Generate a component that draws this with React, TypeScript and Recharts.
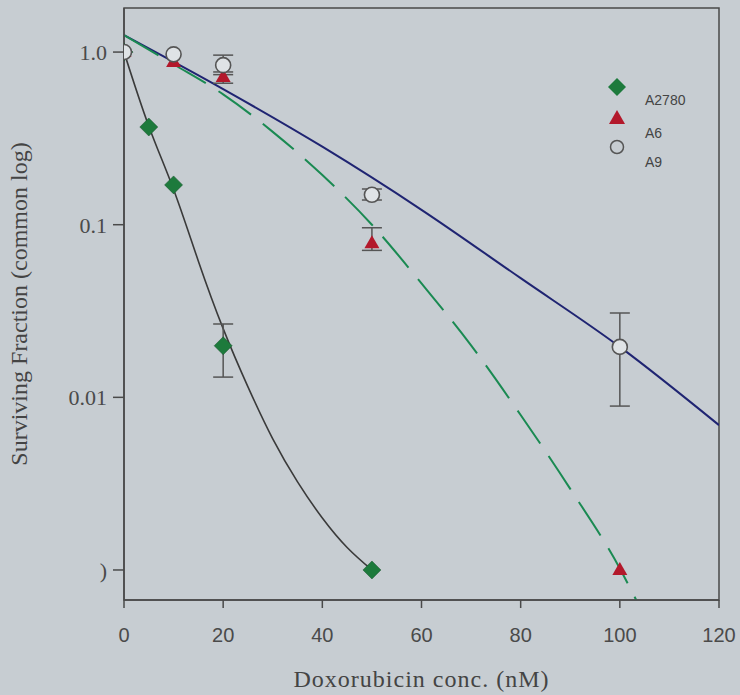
import React from "react";
import {
  ComposedChart,
  Line,
  Scatter,
  ErrorBar,
  XAxis,
  YAxis,
  ReferenceArea,
  Label,
} from "recharts";

// measured points (dose in nM, surviving fraction)
const a2780Points = [
  { x: 0, y: 1.0 },
  { x: 5, y: 0.368 },
  { x: 10, y: 0.17 },
  { x: 20, y: 0.0199, err: [0.0068, 0.0067] },
  { x: 50, y: 0.001 },
];
const a6Points = [
  { x: 0, y: 1.0 },
  { x: 10, y: 0.875 },
  { x: 20, y: 0.717, err: [0.057, 0.05] },
  { x: 50, y: 0.078, err: [0.007, 0.018] },
  { x: 100, y: 0.001 },
];
const a9Points = [
  { x: 0, y: 1.0 },
  { x: 10, y: 0.97 },
  { x: 20, y: 0.84, err: [0.1, 0.12] },
  { x: 50, y: 0.149, err: [0.01, 0.012] },
  { x: 100, y: 0.0196, err: [0.0107, 0.0112] },
];

// fitted curves
const a2780Fit = [
  { x: 0, y: 1.0 },
  { x: 5, y: 0.372 },
  { x: 10, y: 0.16 },
  { x: 15, y: 0.0615 },
  { x: 20, y: 0.025 },
  { x: 25, y: 0.0115 },
  { x: 30, y: 0.00575 },
  { x: 35, y: 0.00324 },
  { x: 40, y: 0.002 },
  { x: 45, y: 0.00135 },
  { x: 50, y: 0.001 },
];
const a6Fit = [
  { x: 0, y: 1.253 },
  { x: 10, y: 0.85 },
  { x: 20, y: 0.569 },
  { x: 30, y: 0.345 },
  { x: 40, y: 0.194 },
  { x: 50, y: 0.1 },
  { x: 60, y: 0.0457 },
  { x: 70, y: 0.02 },
  { x: 80, y: 0.0079 },
  { x: 90, y: 0.00295 },
  { x: 100, y: 0.00102 },
  { x: 103.3, y: 0.00067 },
];
const a9Fit = [
  { x: 0, y: 1.253 },
  { x: 20, y: 0.61 },
  { x: 40, y: 0.283 },
  { x: 60, y: 0.122 },
  { x: 80, y: 0.049 },
  { x: 100, y: 0.0196 },
  { x: 120, y: 0.0069 },
];

const xTicks = [0, 20, 40, 60, 80, 100, 120];
const yTicks = [1, 0.1, 0.01, 0.001];
const yTickLabels = ["1.0", "0.1", "0.01", ")"];
const yDomain = [0.00067, 1.8];

const BG = "#c7cdd2";
const AXIS = "#4a4a4a";
const GREEN = "#1d7a3c";
const RED = "#b3182b";
const NAVY = "#1f2472";
const DASH_GREEN = "#1a8a52";
const SERIF = "'Liberation Serif', 'Times New Roman', serif";
const SANS = "'Liberation Sans', Arial, sans-serif";

const Diamond = (props: any) => {
  const { cx, cy } = props;
  const s = 9;
  return (
    <polygon
      points={`${cx},${cy - s} ${cx + s},${cy} ${cx},${cy + s} ${cx - s},${cy}`}
      fill={GREEN}
      stroke="#17502a"
      strokeWidth={0.5}
    />
  );
};

const Triangle = (props: any) => {
  const { cx, cy } = props;
  return (
    <polygon
      points={`${cx},${cy - 8} ${cx + 7.5},${cy + 5} ${cx - 7.5},${cy + 5}`}
      fill={RED}
    />
  );
};

const OpenCircle = (props: any) => {
  const { cx, cy } = props;
  return <circle cx={cx} cy={cy} r={7.5} fill="#dfe3e6" stroke="#555" strokeWidth={1.6} />;
};

function ChartLegend() {
  const text = { fontFamily: SANS, fontSize: 14, fill: "#444" };
  return (
    <svg width={100} height={110} style={{ position: "absolute", left: 605, top: 74 }}>
      <polygon points="12,4 21,13 12,22 3,13" fill={GREEN} />
      <text x={40} y={31} {...text}>A2780</text>
      <polygon points="12,36 20,50 4,50" fill={RED} />
      <text x={40} y={64} {...text}>A6</text>
      <circle cx={12} cy={73} r={6.5} fill="none" stroke="#555" strokeWidth={1.5} />
      <text x={40} y={93} {...text}>A9</text>
    </svg>
  );
}

export default function App() {
  return (
    <div
      style={{
        position: "fixed",
        left: 0,
        top: 0,
        width: 740,
        height: 695,
        background: BG,
      }}
    >
      <ComposedChart
        width={740}
        height={695}
        margin={{ top: 8, right: 21, bottom: 0, left: 0 }}
      >
        <XAxis
          type="number"
          dataKey="x"
          domain={[0, 120]}
          ticks={xTicks}
          allowDataOverflow
          height={95}
          tickSize={8}
          tickMargin={20}
          axisLine={{ stroke: AXIS, strokeWidth: 1.5 }}
          tickLine={{ stroke: AXIS, strokeWidth: 1.5 }}
          tick={{ fill: "#4a4a4a", fontSize: 20, fontFamily: SANS }}
        >
          <Label
            value="Doxorubicin conc. (nM)"
            position="insideBottom"
            offset={8}
            style={{ fill: "#444", fontSize: 24, letterSpacing: 1, fontFamily: SERIF }}
          />
        </XAxis>
        <YAxis
          type="number"
          dataKey="y"
          scale="log"
          domain={yDomain}
          allowDataOverflow
          ticks={yTicks}
          width={124}
          tickSize={11}
          tickMargin={6}
          tickFormatter={(v: number) => yTickLabels[yTicks.indexOf(v)] ?? ""}
          axisLine={{ stroke: AXIS, strokeWidth: 1.5 }}
          tickLine={{ stroke: AXIS, strokeWidth: 1.5 }}
          tick={{ fill: "#4a4a4a", fontSize: 22, fontFamily: SERIF }}
        >
          <Label
            value="Surviving Fraction (common log)"
            angle={-90}
            position="insideLeft"
            offset={18}
            style={{ textAnchor: "middle", fill: "#444", fontSize: 24, fontFamily: SERIF }}
          />
        </YAxis>
        <ReferenceArea
          x1={0}
          x2={120}
          y1={yDomain[0]}
          y2={yDomain[1]}
          fill="none"
          fillOpacity={0}
          stroke={AXIS}
          strokeWidth={1.5}
        />
        <Line
          data={a9Fit}
          dataKey="y"
          type="monotone"
          stroke={NAVY}
          strokeWidth={2}
          dot={false}
          isAnimationActive={false}
        />
        <Line
          data={a6Fit}
          dataKey="y"
          type="monotone"
          stroke={DASH_GREEN}
          strokeWidth={2}
          strokeDasharray="40 15"
          dot={false}
          isAnimationActive={false}
        />
        <Line
          data={a2780Fit}
          dataKey="y"
          type="natural"
          stroke="#3a3a3a"
          strokeWidth={1.6}
          dot={false}
          isAnimationActive={false}
        />
        <Scatter data={a2780Points} dataKey="y" shape={Diamond} isAnimationActive={false}>
          <ErrorBar dataKey="err" direction="y" width={10} stroke="#555" strokeWidth={1.5} />
        </Scatter>
        <Scatter data={a6Points} dataKey="y" shape={Triangle} isAnimationActive={false}>
          <ErrorBar dataKey="err" direction="y" width={10} stroke="#555" strokeWidth={1.5} />
        </Scatter>
        <Scatter data={a9Points} dataKey="y" shape={OpenCircle} isAnimationActive={false}>
          <ErrorBar dataKey="err" direction="y" width={10} stroke="#555" strokeWidth={1.5} />
        </Scatter>
      </ComposedChart>
      <ChartLegend />
    </div>
  );
}
